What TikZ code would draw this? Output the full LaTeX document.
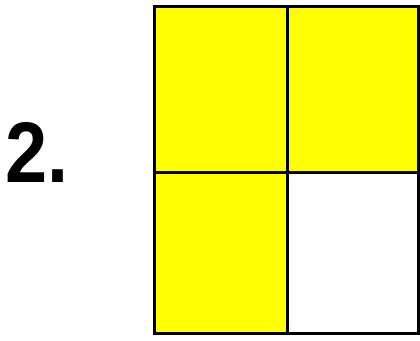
\documentclass[tikz,border=0pt]{standalone}
\usepackage{fontspec}
\setmainfont{Liberation Sans}
\definecolor{cellyellow}{RGB}{255,255,0}
\tikzset{
  cell/.style={draw=black, line width=3pt},
  filled/.style={cell, fill=cellyellow},
  empty/.style={cell, fill=white},
  numlabel/.style={font=\bfseries\fontsize{86}{86}\selectfont, inner sep=0pt, anchor=base west, xscale=0.88}
}
\begin{document}
\begin{tikzpicture}[x=1pt,y=-1pt]
\useasboundingbox[fill=white] (0,0) rectangle (420,340);
\node[numlabel] (lab) at (5,182) {2.};
\path[filled] (154,6) rectangle (287,172);
\path[filled] (287,6) rectangle (418,172);
\path[filled] (154,172) rectangle (287,333);
\path[empty] (287,172) rectangle (418,333);
\end{tikzpicture}
\end{document}
